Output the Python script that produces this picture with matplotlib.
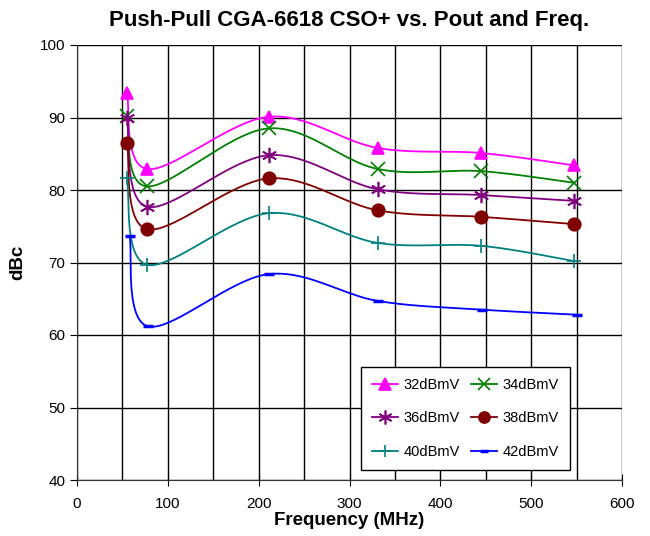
import numpy as np
import matplotlib.pyplot as plt

plt.rcParams['font.family'] = ['Liberation Sans', 'DejaVu Sans']

# frequency points (MHz)
freq = [55, 77, 211, 331, 445, 547]
freq_42 = [58, 78, 211, 331, 446, 550]

cso_32 = [93.4, 82.9, 90.1, 85.8, 85.1, 83.4]
cso_34 = [90.2, 80.5, 88.5, 82.9, 82.6, 81.0]
cso_36 = [90.0, 77.7, 84.8, 80.1, 79.3, 78.5]
cso_38 = [86.5, 74.6, 81.6, 77.2, 76.3, 75.3]
cso_40 = [81.7, 69.7, 76.8, 72.7, 72.3, 70.2]
cso_42 = [73.6, 61.2, 68.4, 64.7, 63.5, 62.8]

labels = ['32dBmV', '34dBmV', '36dBmV', '38dBmV', '40dBmV', '42dBmV']
colors = ['#FF00FF', '#008000', '#800080', '#800000', '#008080', '#0000FF']
markers = ['^', 'x', (6, 2, 0), 'o', '+', '_']
msizes = [9, 10, 11, 9, 10, 7]

XMIN, XMAX, YMIN, YMAX = 0, 600, 40, 100
PXW, PXH = 545.0, 435.0


def smooth(x, y, n=40):
    # Excel-like smoothed line: Catmull-Rom bezier in screen space
    px = (np.asarray(x, float) - XMIN) / (XMAX - XMIN) * PXW
    py = (np.asarray(y, float) - YMIN) / (YMAX - YMIN) * PXH
    pts = np.column_stack([px, py])
    ext = np.vstack([pts[0], pts, pts[-1]])
    t = np.linspace(0, 1, n)[:, None]
    out = []
    for i in range(1, len(ext) - 2):
        p0, p1, p2, p3 = ext[i - 1], ext[i], ext[i + 1], ext[i + 2]
        c1 = p1 + (p2 - p0) / 6
        c2 = p2 - (p3 - p1) / 6
        seg = ((1 - t) ** 3 * p1 + 3 * (1 - t) ** 2 * t * c1
               + 3 * (1 - t) * t ** 2 * c2 + t ** 3 * p2)
        out.append(seg)
    out = np.vstack(out)
    sx = out[:, 0] / PXW * (XMAX - XMIN) + XMIN
    sy = out[:, 1] / PXH * (YMAX - YMIN) + YMIN
    return sx, sy


fig = plt.figure(figsize=(6.5, 5.36), dpi=100)
ax = fig.add_axes([77 / 650, 1 - 480 / 536, 545 / 650, 435 / 536])

series = [cso_32, cso_34, cso_36, cso_38, cso_40, cso_42]
handles = []
for i, vals in enumerate(series):
    xs = freq_42 if i == 5 else freq
    sx, sy = smooth(xs, vals)
    ax.plot(sx, sy, color=colors[i], lw=1.3, zorder=3)
    mew = 2.5 if i == 5 else 1.2
    ax.plot(xs, vals, ls='none', marker=markers[i], color=colors[i],
            ms=msizes[i], mew=mew, zorder=4)
    # legend proxy
    h, = ax.plot([], [], color=colors[i], lw=1.3, marker=markers[i],
                 ms=msizes[i] - 1, mew=mew, label=labels[i])
    handles.append(h)

ax.set_xlim(XMIN, XMAX)
ax.set_ylim(YMIN, YMAX)
ax.set_xticks(np.arange(0, 601, 100))
ax.set_xticks(np.arange(0, 601, 50), minor=True)
ax.set_yticks(np.arange(40, 101, 10))
ax.grid(True, which='both', axis='x', color='black', lw=1)
ax.grid(True, axis='y', color='black', lw=1)
ax.tick_params(axis='x', which='major', direction='inout', length=8, labelsize=11, pad=8)
ax.tick_params(axis='x', which='minor', length=0)
ax.tick_params(axis='y', direction='out', length=5, labelsize=11)
for s in ['top', 'right']:
    ax.spines[s].set_visible(False)
for s in ['left', 'bottom']:
    ax.spines[s].set_color('#333333')

ax.set_title('Push-Pull CGA-6618 CSO+ vs. Pout and Freq.', fontsize=16,
             fontweight='bold', pad=14)
ax.set_xlabel('Frequency (MHz)', fontsize=13.5, fontweight='bold', labelpad=1)
ax.set_ylabel('dBc', fontsize=13.5, fontweight='bold', labelpad=10)

# row-wise order in a 2-column legend
order = [0, 2, 4, 1, 3, 5]
leg = ax.legend([handles[k] for k in order], [labels[k] for k in order],
                ncol=2, loc='lower left', bbox_to_anchor=(0.521, 0.023),
                borderaxespad=0, fontsize=10.5, frameon=True, fancybox=False,
                edgecolor='black', framealpha=1, handlelength=1.8,
                handletextpad=0.4, labelspacing=1.35, columnspacing=0.7,
                borderpad=0.75)
leg.get_frame().set_linewidth(1)

fig.savefig('out.png', dpi=100)
